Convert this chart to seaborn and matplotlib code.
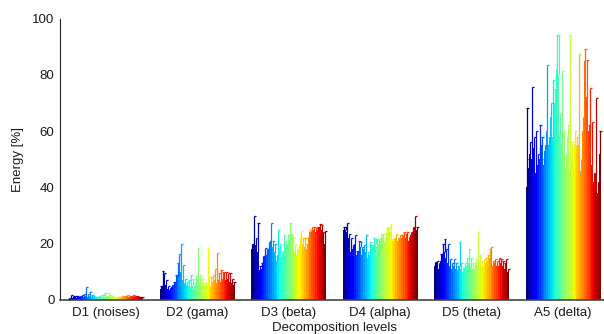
import numpy as np
import pandas as pd
import matplotlib
matplotlib.use("Agg")
import matplotlib.pyplot as plt
import seaborn as sns

levels = ["D1 (noises)", "D2 (gama)", "D3 (beta)", "D4 (alpha)", "D5 (theta)", "A5 (delta)"]

d1_mean = [0.4, 0.7, 0.8, 0.9, 0.8, 0.9, 1.0, 1.1, 1.0, 1.3, 1.2, 1.4, 1.2, 1.0, 0.9, 0.8, 0.9, 1.0, 1.0, 1.1,
           1.0, 1.2, 1.1, 1.0, 0.9, 0.8, 0.9, 1.0, 1.1, 1.2, 1.3, 1.3, 1.2, 1.2, 1.3, 1.2, 1.1, 1.0, 0.9, 0.8]
d1_err = [0.3, 1.2, 0.6, 0.4, 0.5, 0.3, 0.4, 0.8, 1.0, 3.3, 0.8, 1.5, 0.6, 0.4, 0.3, 0.4, 0.5, 0.6, 0.8, 1.3,
          0.5, 1.2, 0.6, 0.4, 0.3, 0.2, 0.3, 0.2, 0.3, 0.2, 0.2, 0.3, 0.3, 0.2, 0.3, 0.2, 0.2, 0.2, 0.2, 0.2]

d2_mean = [4.0, 4.5, 7.5, 5.5, 4.0, 3.5, 4.5, 5.0, 6.5, 9.0, 12.0, 10.0, 7.0, 6.0, 5.5, 5.0, 4.5, 5.0, 4.0, 6.0,
           7.5, 6.0, 5.0, 4.5, 4.0, 5.5, 6.0, 5.0, 6.5, 7.0, 6.0, 7.0, 6.5, 7.5, 8.0, 7.0, 7.5, 6.5, 6.0, 5.5]
d2_err = [1.0, 5.8, 2.0, 1.5, 0.8, 0.8, 1.0, 1.5, 2.5, 4.0, 4.5, 10.0, 5.5, 1.5, 1.0, 2.0, 4.4, 2.5, 1.0, 2.5,
          10.8, 3.0, 2.5, 1.5, 2.0, 12.8, 2.0, 3.0, 2.5, 4.0, 10.8, 2.5, 4.0, 2.5, 2.0, 3.0, 2.0, 3.0, 1.5, 1.0]

d3_mean = [18, 20, 19.5, 17, 10.5, 11, 13, 15.5, 16, 18, 21, 19, 17, 14, 16, 18, 15, 17, 19, 20,
           21, 22, 20, 17, 16, 18, 22, 20, 19, 18, 21, 24, 24, 25, 24, 25, 26, 25, 22, 20]
d3_err = [2.0, 9.8, 2.5, 10.5, 1.5, 2.0, 2.5, 3.0, 2.0, 2.5, 6.2, 2.0, 3.0, 1.5, 8.8, 2.0, 2.5, 6.0, 2.0, 3.0,
          6.5, 1.5, 2.5, 3.0, 2.0, 1.5, 2.5, 2.0, 3.0, 2.0, 1.5, 1.0, 2.0, 1.0, 1.5, 1.0, 1.0, 1.5, 2.0, 4.5]

d4_mean = [25, 25, 24, 22, 17, 18, 20, 16, 17, 19, 16, 18, 17, 15, 16, 18, 19, 20, 19, 20,
           21, 22, 21, 24, 25, 24, 20, 21, 22, 21, 22, 22, 23, 22, 23, 21, 23, 24, 26, 25]
d4_err = [1.0, 1.0, 3.2, 1.5, 5.0, 1.5, 3.0, 1.5, 4.0, 1.5, 3.0, 1.5, 6.0, 2.0, 4.5, 1.5, 3.0, 1.5, 2.5, 1.5,
          2.5, 1.5, 1.0, 1.5, 1.0, 3.0, 1.5, 1.0, 1.5, 1.0, 1.0, 1.0, 1.0, 1.5, 1.0, 1.5, 1.0, 2.0, 3.8, 1.0]

d5_mean = [12, 13, 11, 14, 16, 17, 15, 13, 12, 11, 12, 11, 10.5, 12, 11, 10, 11, 12, 13, 12,
           11, 11, 12, 13, 11, 12, 12, 13, 14, 15, 14, 12, 13, 12, 12, 13, 12, 11, 10.5, 10]
d5_err = [1.5, 1.0, 2.0, 2.5, 4.0, 4.5, 3.0, 7.0, 2.5, 2.0, 2.5, 2.0, 1.5, 8.7, 2.0, 1.5, 2.0, 3.0, 5.0, 3.0,
          2.0, 1.5, 2.5, 11.2, 5.0, 2.0, 2.5, 2.0, 2.0, 3.0, 4.7, 2.0, 1.5, 2.0, 3.0, 1.5, 2.0, 2.0, 3.9, 1.0]

a5_mean = [40, 47, 52, 50, 54, 45, 48, 50, 55, 48, 53, 60, 55, 65, 58, 70, 82, 80, 58, 55,
           50, 47, 58, 46, 50, 48, 52, 55, 55, 46, 60, 85, 72, 60, 55, 48, 42, 45, 38, 52]
a5_err = [28.3, 3.0, 4.0, 25.6, 4.0, 15.0, 4.0, 12.0, 3.0, 2.0, 2.0, 23.6, 3.0, 5.0, 20.0, 5.0, 12.0, 14.0, 8.0, 26.2,
          9.7, 5.0, 4.0, 48.3, 6.0, 7.0, 8.0, 3.0, 32.5, 4.0, 5.0, 4.2, 13.3, 2.0, 20.3, 15.2, 3.0, 26.7, 4.0, 7.9]

means = [d1_mean, d2_mean, d3_mean, d4_mean, d5_mean, a5_mean]
errs = [d1_err, d2_err, d3_err, d4_err, d5_err, a5_err]
n_series = len(d1_mean)
series = [f"S{k + 1}" for k in range(n_series)]

rows = []
for lvl, m in zip(levels, means):
    for s, v in zip(series, m):
        rows.append({"level": lvl, "series": s, "energy": v})
df = pd.DataFrame(rows)

sns.set_theme(style="white")
plt.rcParams["font.family"] = ["Liberation Sans", "DejaVu Sans"]

colors = [plt.cm.jet(t) for t in np.linspace(0, 1, n_series)]

fig = plt.figure(figsize=(6.04, 3.34), dpi=100)
ax = fig.add_axes([60 / 604, 34 / 334, 549 / 604, 281.5 / 334])

sns.barplot(data=df, x="level", y="energy", hue="series", order=levels, hue_order=series,
            palette=colors, saturation=1, width=0.82, errorbar=None, legend=False,
            linewidth=0, ax=ax)

for k, cont in enumerate(ax.containers):
    for bar in cont:
        w = bar.get_width()
        xc = bar.get_x() + w / 2
        j = int(round(xc))
        top = bar.get_height()
        e = errs[j][k]
        ax.plot([xc, xc], [top, top + e], color=colors[k], lw=0.9, solid_capstyle="butt", zorder=3)
        ax.plot([xc - 0.2 * w, xc + 1.0 * w], [top + e, top + e], color=colors[k], lw=0.9,
                solid_capstyle="butt", zorder=3)

ax.set_xlim(-0.5, 5.5)
ax.set_ylim(0, 100)
ax.set_yticks([0, 20, 40, 60, 80, 100])
ax.set_xlabel("Decomposition levels", fontsize=9.5, labelpad=2, color="#1a1a1a")
ax.set_ylabel("Energy [%]", fontsize=9.5, labelpad=6, color="#1a1a1a")
ax.tick_params(axis="y", direction="in", length=5, width=0.8, labelsize=9.5, pad=4, colors="#1a1a1a")
ax.tick_params(axis="x", direction="in", length=0, labelsize=9.5, pad=5, colors="#1a1a1a")
for side in ["top", "right"]:
    ax.spines[side].set_visible(False)
ax.spines["left"].set_color("#222222")
ax.spines["bottom"].set_color("#444444")
ax.spines["left"].set_linewidth(0.8)
ax.spines["bottom"].set_linewidth(1.2)

fig.savefig("out.png", dpi=100)
